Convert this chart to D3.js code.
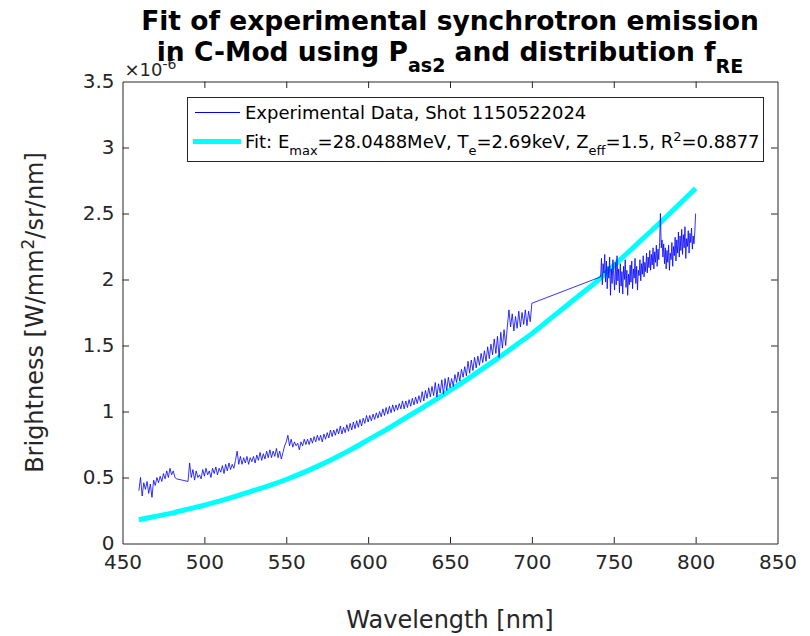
<!DOCTYPE html>
<html><head><meta charset="utf-8">
<script src="https://cdn.jsdelivr.net/npm/d3@7"></script>
<style>
html,body{margin:0;padding:0;background:#fff;}
svg{display:block;font-family:"DejaVu Sans",sans-serif;}
</style></head>
<body>
<svg id="chart" width="810" height="636"></svg>
<script>
// ---- data (brightness in units of 1e-6 W/mm^2/sr/nm) ----
const expWavelengthA = [
460,461,462,463,464,465,466,467,468,469,470,471,472,473,474,475,476,477,478,479,480,481,482,483,
490,491,492,493,494,495,496,497,498,499,
500,501,502,503,504,505,506,507,508,509,
510,511,512,513,514,515,516,517,518,519,
520,521,522,523,524,525,526,527,528,529,
530,531,532,533,534,535,536,537,538,539,
540,541,542,543,544,545,546,547,548,549,
550,551,552,553,554,555,556,557,558,559,
560,561,562,563,564,565,566,567,568,569,
570,571,572,573,574,575,576,577,578,579,
580,581,582,583,584,585,586,587,588,589,
590,591,592,593,594,595,596,597,598,599,
600,601,602,603,604,605,606,607,608,609,
610,611,612,613,614,615,616,617,618,619,
620,621,622,623,624,625,626,627,628,629,
630,631,632,633,634,635,636,637,638,639,
640,641,642,643,644,645,646,647,648,649,
650,651,652,653,654,655,656,657,658,659,
660,661,662,663,664,665,666,667,668,669,
670,671,672,673,674,675,676,677,678,679,
680,681,682,683,684,685,686,687,688,689,
690,691,692,693,694,695,696,697,698,699,700
];
const expBrightnessA = [
0.40,0.50,0.36,0.46,0.41,0.47,0.38,0.45,0.35,0.48,0.44,0.50,0.46,0.51,0.47,0.53,0.49,0.55,0.50,0.57,0.52,0.55,0.50,0.49,
0.47,0.61,0.50,0.56,0.48,0.55,0.50,0.52,0.49,0.56,
0.51,0.57,0.52,0.55,0.50,0.57,0.53,0.58,0.52,0.57,
0.54,0.59,0.53,0.60,0.55,0.61,0.56,0.60,0.57,0.63,
0.70,0.60,0.66,0.60,0.65,0.61,0.66,0.60,0.65,0.62,
0.66,0.61,0.67,0.63,0.69,0.63,0.68,0.64,0.70,0.65,
0.71,0.65,0.70,0.66,0.72,0.65,0.70,0.64,0.69,0.74,
0.77,0.82,0.74,0.79,0.73,0.77,0.74,0.76,0.71,0.77,
0.74,0.79,0.75,0.79,0.75,0.80,0.76,0.81,0.77,0.82,
0.78,0.82,0.77,0.83,0.79,0.84,0.80,0.86,0.81,0.86,
0.82,0.87,0.83,0.89,0.83,0.88,0.84,0.90,0.85,0.91,
0.86,0.92,0.87,0.93,0.88,0.94,0.89,0.95,0.91,0.97,
0.92,0.97,0.93,0.98,0.94,0.99,0.95,1.00,0.96,1.02,
0.97,1.03,0.98,1.04,0.99,1.05,1.00,1.05,1.01,1.06,
1.02,1.08,1.02,1.08,1.03,1.09,1.04,1.10,1.05,1.11,
1.06,1.12,1.07,1.15,1.08,1.16,1.10,1.18,1.11,1.19,
1.12,1.22,1.11,1.21,1.14,1.24,1.13,1.25,1.16,1.26,
1.18,1.25,1.19,1.28,1.22,1.30,1.23,1.32,1.26,1.34,
1.27,1.38,1.29,1.39,1.31,1.41,1.33,1.42,1.35,1.44,
1.37,1.46,1.38,1.49,1.40,1.51,1.43,1.55,1.44,1.57,
1.41,1.60,1.48,1.62,1.50,1.64,1.77,1.64,1.74,1.61,
1.72,1.63,1.76,1.64,1.75,1.66,1.77,1.65,1.76,1.68,1.82
];
const expWavelengthB = [
742,742.5,743,743.5,744,744.5,745,745.5,746,746.5,
747,747.5,748,748.5,749,749.5,750,750.5,751,751.5,
752,752.5,753,753.5,754,754.5,755,755.5,756,756.5,
757,757.5,758,758.5,759,759.5,760,760.5,761,761.5,
762,762.5,763,763.5,764,764.5,765,765.5,766,766.5,
767,767.5,768,768.5,769,769.5,770,770.5,771,771.5,
772,772.5,773,773.5,774,774.5,775,775.5,776,776.5,
777,777.5,778,778.5,779,779.5,780,780.5,781,781.5,
782,782.5,783,783.5,784,784.5,785,785.5,786,786.5,
787,787.5,788,788.5,789,789.5,790,790.5,791,791.5,
792,792.5,793,793.5,794,794.5,795,795.5,796,796.5,
797,797.5,798,798.5,799,799.5,800
];
const expBrightnessB = [
2.02,2.16,1.96,2.12,2.05,2.19,1.98,2.14,1.93,2.10,
2.01,2.17,1.88,2.08,1.97,2.15,2.02,1.92,2.13,1.96,
2.18,1.99,2.08,1.90,2.12,1.95,2.06,1.89,2.10,2.00,
2.15,1.94,2.07,1.88,2.04,1.96,2.11,1.98,2.14,1.93,
2.08,2.01,2.16,1.97,2.10,1.92,2.07,2.03,2.15,1.99,
2.12,2.04,2.18,2.02,2.13,2.06,2.20,2.05,2.17,2.09,
2.22,2.07,2.19,2.11,2.24,2.08,2.21,2.13,2.26,2.10,
2.23,2.15,2.28,2.50,2.24,2.30,2.17,2.27,2.12,2.24,
2.08,2.22,2.13,2.26,2.07,2.20,2.15,2.28,2.10,2.25,
2.18,2.32,2.14,2.30,2.20,2.36,2.17,2.33,2.22,2.38,
2.19,2.34,2.24,2.40,2.16,2.31,2.25,2.37,2.20,2.35,
2.28,2.39,2.23,2.33,2.27,2.36,2.50
];
const fitWavelength = [460,470,480,490,500,510,520,530,540,550,560,570,580,590,600,610,620,630,640,650,660,670,680,690,700,710,720,730,740,750,760,770,780,790,800];
const fitBrightness = [0.18,0.205,0.23,0.26,0.29,0.325,0.36,0.40,0.44,0.485,0.535,0.59,0.65,0.715,0.785,0.855,0.93,1.005,1.08,1.16,1.24,1.325,1.41,1.50,1.59,1.69,1.79,1.89,1.99,2.105,2.22,2.335,2.45,2.57,2.69];
const xTicks = [450,500,550,600,650,700,750,800,850];
const yTicks = [0,0.5,1,1.5,2,2.5,3,3.5];
const yTickLabels = ["0","0.5","1","1.5","2","2.5","3","3.5"];

const expWavelength = expWavelengthA.concat(expWavelengthB);
const expBrightness = expBrightnessA.concat(expBrightnessB);

// ---- layout ----
const svg = d3.select("#chart");
const axisColor = "#262626";
const x = d3.scaleLinear().domain([450,850]).range([122.5,777.5]);
const y = d3.scaleLinear().domain([0,3.5]).range([543.5,81.5]);
const tick = 6.5;

const gB = svg.append("g").attr("transform",`translate(0,${y(0)})`)
  .call(d3.axisBottom(x).tickValues(xTicks).tickSizeInner(-tick).tickSizeOuter(0).tickPadding(11).tickFormat(d3.format("d")));
const gT = svg.append("g").attr("transform",`translate(0,${y(3.5)})`)
  .call(d3.axisTop(x).tickValues(xTicks).tickSizeInner(-tick).tickSizeOuter(0).tickFormat(""));
const gL = svg.append("g").attr("transform",`translate(${x(450)},0)`)
  .call(d3.axisLeft(y).tickValues(yTicks).tickSizeInner(-tick).tickSizeOuter(0).tickPadding(8).tickFormat((d,i)=>yTickLabels[i]));
const gR = svg.append("g").attr("transform",`translate(${x(850)},0)`)
  .call(d3.axisRight(y).tickValues(yTicks).tickSizeInner(-tick).tickSizeOuter(0).tickFormat(""));
[gB,gT,gL,gR].forEach(g=>{
  g.select(".domain").attr("stroke",axisColor).attr("stroke-width",1);
  g.selectAll(".tick line").attr("stroke",axisColor).attr("stroke-width",1);
  g.selectAll(".tick text").attr("fill",axisColor).style("font-size","20px").style("font-family","DejaVu Sans");
});
gT.selectAll(".tick").filter(d=>d===450||d===850).remove();
gR.selectAll(".tick").filter(d=>d===0||d===3.5).remove();
gB.selectAll(".tick line").filter(d=>d===450||d===850).remove();
gL.selectAll(".tick line").filter(d=>d===0||d===3.5).remove();

// exponent label
const ex = svg.append("text").attr("x",x(450)+2).attr("y",76).attr("fill",axisColor).style("font-size","18px");
ex.append("tspan").text("\u00d710");
ex.append("tspan").attr("dy",-7).style("font-size","14px").text("-6");

// ---- lines ----
const fitLine = d3.line().x((d,i)=>x(fitWavelength[i])).y(d=>y(d)).curve(d3.curveCatmullRom);
svg.append("path").datum(fitBrightness).attr("d",fitLine)
  .attr("fill","none").attr("stroke","#00ffff").attr("stroke-width",5);
const expLine = d3.line().x((d,i)=>x(expWavelength[i])).y(d=>y(d));
svg.append("path").datum(expBrightness).attr("d",expLine)
  .attr("fill","none").attr("stroke","#0000ff").attr("stroke-width",0.8);

// ---- legend ----
const lg = svg.append("g");
lg.append("rect").attr("x",187.5).attr("y",97.5).attr("width",576).attr("height",64)
  .attr("fill","#fff").attr("stroke",axisColor).attr("stroke-width",1);
lg.append("line").attr("x1",195).attr("x2",240).attr("y1",112.5).attr("y2",112.5)
  .attr("stroke","#0000ff").attr("stroke-width",1);
lg.append("line").attr("x1",193).attr("x2",241).attr("y1",141.5).attr("y2",141.5)
  .attr("stroke","#00ffff").attr("stroke-width",5);
lg.append("text").attr("x",245).attr("y",119).attr("fill","#000").style("font-size","18px")
  .text("Experimental Data, Shot 1150522024");
const t2 = lg.append("text").attr("x",245).attr("y",148).attr("fill","#000").style("font-size","18px");
const parts = [["Fit: E",0,18],["max",7,13],["=28.0488MeV, T",-7,18],["e",7,13],["=2.69keV, Z",-7,18],["eff",7,13],["=1.5, R",-7,18],["2",-7,13],["=0.8877",7,18]];
parts.forEach(p=>t2.append("tspan").attr("dy",p[1]).style("font-size",p[2]+"px").text(p[0]));

// ---- title ----
svg.append("text").attr("x",450).attr("y",30).attr("text-anchor","middle")
  .style("font-size","26.5px").style("font-weight","bold").attr("fill","#000")
  .text("Fit of experimental synchrotron emission");
const tt = svg.append("text").attr("x",450).attr("y",61).attr("text-anchor","middle")
  .style("font-size","26.5px").style("font-weight","bold").attr("fill","#000");
[["in C-Mod using P",0,26.5],["as2",11,19],[" and distribution f",-11,26.5],["RE",12,19]]
  .forEach(p=>tt.append("tspan").attr("dy",p[1]).style("font-size",p[2]+"px").text(p[0]));

// ---- axis labels ----
svg.append("text").attr("x",450).attr("y",628).attr("text-anchor","middle")
  .attr("fill",axisColor).style("font-size","24px").text("Wavelength [nm]");
const yl = svg.append("text").attr("transform",`translate(43,${(y(0)+y(3.5))/2}) rotate(-90)`)
  .attr("text-anchor","middle").attr("fill",axisColor).style("font-size","24px");
yl.append("tspan").text("Brightness [W/mm");
yl.append("tspan").attr("dy",-9).style("font-size","17px").text("2");
yl.append("tspan").attr("dy",9).text("/sr/nm]");
</script>
</body></html>
